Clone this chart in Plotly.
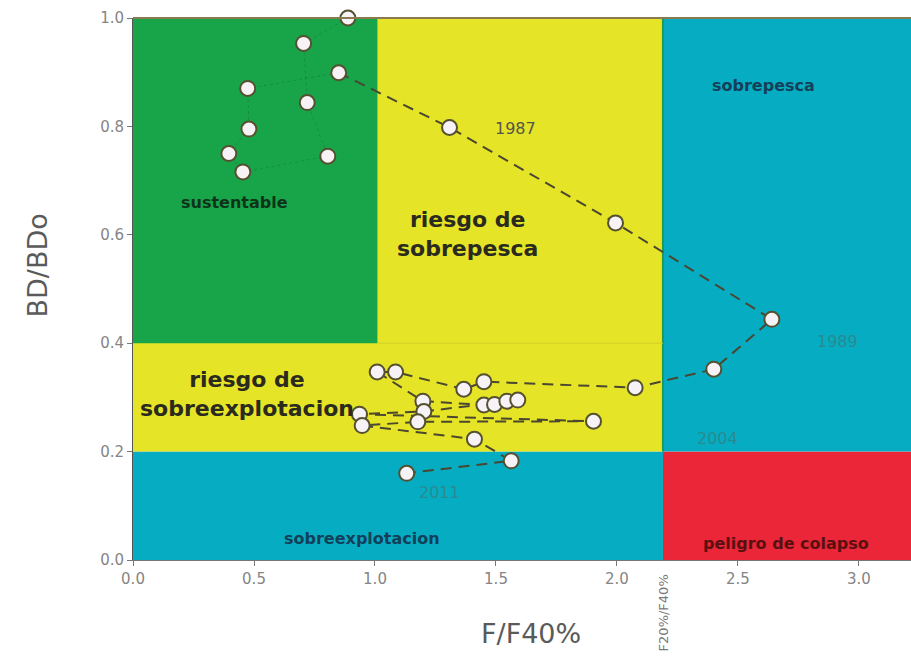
import plotly.graph_objects as go

# ---- data ----
F_ratio = [0.888, 0.705, 0.720, 0.805, 0.454, 0.396, 0.479, 0.474, 0.850,
           1.308, 1.994, 2.640, 2.400, 2.075, 1.450, 1.367, 1.085, 1.009,
           1.198, 1.450, 1.494, 1.545, 1.590, 1.202, 0.936, 1.903, 1.177,
           0.947, 1.411, 1.563, 1.131]
B_ratio = [1.000, 0.953, 0.844, 0.745, 0.716, 0.750, 0.795, 0.870, 0.899,
           0.798, 0.622, 0.444, 0.352, 0.318, 0.329, 0.315, 0.347, 0.347,
           0.293, 0.286, 0.287, 0.293, 0.295, 0.274, 0.269, 0.256, 0.255,
           0.248, 0.223, 0.183, 0.160]
n_early = 9  # points before 1987

year_labels = ["1987", "1989", "2004", "2011"]
year_x = [1.58, 2.91, 2.415, 1.266]
year_y = [0.797, 0.404, 0.225, 0.124]

x_ticks = [0.0, 0.5, 1.0, 1.5, 2.0, 2.5, 3.0]
y_ticks = [0.0, 0.2, 0.4, 0.6, 0.8, 1.0]

F_lim = 2.19   # F20%/F40%
B_lim = 0.2
B_sus = 0.4
F_sus = 1.01

XMIN, XMAX = 0.0, 3.215
YMIN, YMAX = 0.0, 1.0

GREEN = "#18a54a"
YELLOW = "#e5e426"
CYAN = "#06adc2"
RED = "#ea2638"
FONT = "DejaVu Sans, Verdana, sans-serif"

fig = go.Figure()

shapes = [
    dict(type="rect", x0=XMIN, x1=F_lim, y0=YMIN, y1=B_lim, fillcolor=CYAN),
    dict(type="rect", x0=F_lim, x1=XMAX, y0=YMIN, y1=B_lim, fillcolor=RED),
    dict(type="rect", x0=F_lim, x1=XMAX, y0=B_lim, y1=YMAX, fillcolor=CYAN),
    dict(type="rect", x0=XMIN, x1=F_lim, y0=B_lim, y1=YMAX, fillcolor=YELLOW),
    dict(type="rect", x0=XMIN, x1=F_sus, y0=B_sus, y1=YMAX, fillcolor=GREEN),
]
for s in shapes:
    s.update(xref="x", yref="y", line=dict(width=0), layer="below")
fig.update_layout(shapes=shapes)
fig.add_shape(type="line", xref="x", yref="y", x0=F_lim, x1=F_lim, y0=B_lim, y1=YMAX,
              line=dict(color="#1f9a55", width=2), layer="below")
fig.add_shape(type="line", xref="x", yref="y", x0=F_sus, x1=F_lim, y0=B_sus, y1=B_sus,
              line=dict(color="#d6cf2c", width=1), layer="below")

# early trajectory (faint)
fig.add_trace(go.Scatter(x=F_ratio[:n_early], y=B_ratio[:n_early], mode="lines",
                         line=dict(color="rgba(10,60,25,0.22)", width=1, dash="dot"),
                         hoverinfo="skip", showlegend=False, cliponaxis=False))
# main trajectory (dashed)
fig.add_trace(go.Scatter(x=F_ratio[n_early - 1:], y=B_ratio[n_early - 1:], mode="lines",
                         line=dict(color="#4b4630", width=2, dash="11px,7px"),
                         hoverinfo="skip", showlegend=False, cliponaxis=False))
# points
fig.add_trace(go.Scatter(x=F_ratio, y=B_ratio, mode="markers",
                         marker=dict(size=15, color="#f6f2f6",
                                     line=dict(color="#55502f", width=2)),
                         showlegend=False, cliponaxis=False))

ann = []
for t, x, y, c in zip(year_labels, year_x, year_y,
                      ["#55554a", "#2a8a90", "#2a8a90", "#2a8a90"]):
    ann.append(dict(x=x, y=y, text=t, showarrow=False, xref="x", yref="y",
                    font=dict(family=FONT, size=16, color=c)))

region_labels = [
    ("sustentable", 0.42, 0.659, 16, "#0d3318"),
    ("riesgo de<br>sobrepesca", 1.382, 0.601, 22, "#2a2a1e"),
    ("sobrepesca", 2.605, 0.876, 16, "#14405a"),
    ("riesgo de<br>sobreexplotacion", 0.473, 0.306, 22, "#2a2a1e"),
    ("sobreexplotacion", 0.945, 0.039, 16, "#12405a"),
    ("peligro de colapso", 2.70, 0.031, 16, "#5a1010"),
]
for t, x, y, s, c in region_labels:
    ann.append(dict(x=x, y=y, text="<b>" + t + "</b>", showarrow=False, xref="x", yref="y",
                    font=dict(family=FONT, size=s, color=c)))

# F20%/F40% reference mark below the axis
ann.append(dict(x=F_lim, y=-0.022, xref="x", yref="paper", xanchor="center", yanchor="top",
                text="F20%/F40%", textangle=-90, showarrow=False,
                font=dict(family=FONT, size=13, color="#7a7a7a")))

# axis titles
ann.append(dict(x=0.512, y=-0.135, xref="paper", yref="paper", xanchor="center",
                yanchor="middle", text="F/F40%", showarrow=False,
                font=dict(family=FONT, size=27, color="#5a5a5a")))
ann.append(dict(x=-0.123, y=0.544, xref="paper", yref="paper", xanchor="center",
                yanchor="middle", text="BD/BDo", textangle=-90, showarrow=False,
                font=dict(family=FONT, size=27, color="#5a5a5a")))

fig.update_layout(
    annotations=ann,
    width=911, height=664,
    margin=dict(l=133, r=0, t=18, b=104),
    paper_bgcolor="white", plot_bgcolor="white",
    xaxis=dict(range=[XMIN, XMAX], tickvals=x_ticks, ticktext=[f"{v:.1f}" for v in x_ticks],
               showgrid=False, zeroline=False, showline=True, linecolor="#777777",
               ticks="outside", ticklen=5, tickcolor="#777777",
               tickfont=dict(family=FONT, size=15, color="#858585")),
    yaxis=dict(range=[YMIN, YMAX], tickvals=y_ticks, ticktext=[f"{v:.1f}" for v in y_ticks],
               showgrid=False, zeroline=False, showline=True, linecolor="#555555",
               ticks="outside", ticklen=5, tickcolor="#777777",
               tickfont=dict(family=FONT, size=15, color="#858585")),
)
fig.add_shape(type="line", xref="paper", yref="paper", x0=0, x1=1, y0=1, y1=1,
              line=dict(color="#8a7a50", width=2))

fig.write_html("out.html", config={"displayModeBar": False},
               post_script="document.body.style.margin='0';document.body.style.overflow='hidden';")
